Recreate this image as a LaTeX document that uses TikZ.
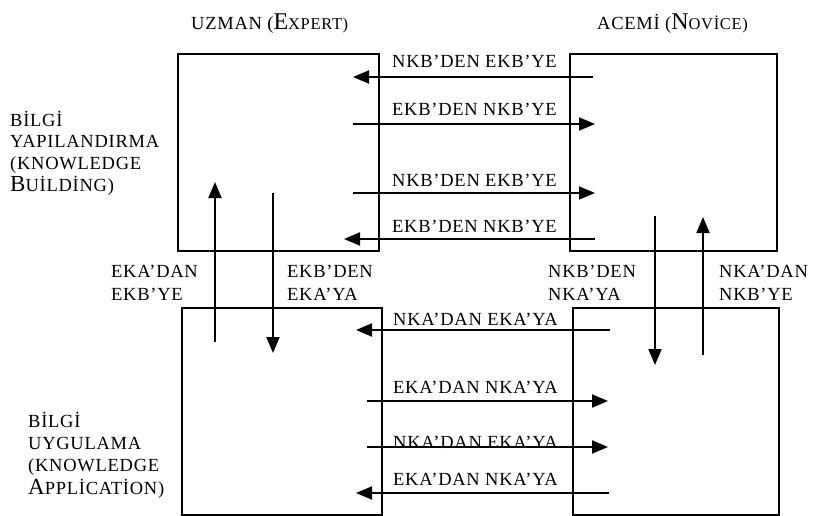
\documentclass[tikz,border=0pt]{standalone}
\usepackage{fontspec}
\setmainfont{Liberation Serif}[LetterSpace=4]
\usetikzlibrary{arrows.meta}

\begin{document}
\begin{tikzpicture}[x=1pt,y=-1pt,
  panel/.style={draw, line width=1.9pt, inner sep=0pt, anchor=north west},
  flow/.style={line width=1.9pt, -{Triangle[length=16pt,width=13pt]}},
  lbl/.style={font=\fontsize{18.5}{23}\selectfont, inner sep=0pt, anchor=base west, align=left},
  side/.style={lbl, font=\fontsize{18.5}{21.6}\selectfont},
]
\useasboundingbox (0,0) rectangle (813,516);

% the four panels
\node[panel, minimum width=201pt, minimum height=197pt] (ekb) at (177,53) {};
\node[panel, minimum width=207pt, minimum height=197pt] (nkb) at (569,53) {};
\node[panel, minimum width=200pt, minimum height=207pt] (eka) at (181,307) {};
\node[panel, minimum width=206pt, minimum height=207pt] (nka) at (572,307) {};

% column headings
\node[lbl] (hexp) at (191,30) {UZMAN ({\fontsize{24}{24}\selectfont E}{\fontsize{16.5}{17}\selectfont XPERT)}};
\node[lbl] (hnov) at (597,30) {ACEMİ ({\fontsize{24}{24}\selectfont N}{\fontsize{16.5}{17}\selectfont OVİCE)}};

% row headings (anchored at the baseline of the last line)
\node[side] (hbuild) at (10,191) {BİLGİ\\YAPILANDIRMA\\(KNOWLEDGE\\{\fontsize{23}{23}\selectfont B}UİLDİNG)};
\node[side, font=\fontsize{18.5}{22.3}\selectfont] (happ) at (28,494) {BİLGİ\\UYGULAMA\\(KNOWLEDGE\\{\fontsize{23}{23}\selectfont A}PPLİCATİON)};

% end points of the connectors
\coordinate (t1a) at (593,77);  \coordinate (t1b) at (353,77);
\coordinate (t2a) at (353,124); \coordinate (t2b) at (595,124);
\coordinate (t3a) at (353,193); \coordinate (t3b) at (595,193);
\coordinate (t4a) at (595,239); \coordinate (t4b) at (344,239);
\coordinate (b1a) at (610,330); \coordinate (b1b) at (356,330);
\coordinate (b2a) at (367,401); \coordinate (b2b) at (608,401);
\coordinate (b3a) at (367,447); \coordinate (b3b) at (608,447);
\coordinate (b4a) at (609,493); \coordinate (b4b) at (356,493);
\coordinate (lua) at (215,342); \coordinate (lub) at (215,182);
\coordinate (lda) at (273,193); \coordinate (ldb) at (273,353);
\coordinate (rda) at (655,216); \coordinate (rdb) at (655,365);
\coordinate (rua) at (703,355); \coordinate (rub) at (703,217);

% knowledge building exchanges
\draw[flow] (t1a) -- (t1b);
\draw[flow] (t2a) -- (t2b);
\draw[flow] (t3a) -- (t3b);
\draw[flow] (t4a) -- (t4b);
\node[lbl] (l1) at (392,68)  {NKB'DEN EKB'YE};
\node[lbl] (l2) at (392,116) {EKB'DEN NKB'YE};
\node[lbl] (l3) at (392,186) {NKB'DEN EKB'YE};
\node[lbl] (l4) at (392,232) {EKB'DEN NKB'YE};

% knowledge application exchanges
\draw[flow] (b1a) -- (b1b);
\draw[flow] (b2a) -- (b2b);
\draw[flow] (b3a) -- (b3b);
\draw[flow] (b4a) -- (b4b);
\node[lbl] (m1) at (393,325) {NKA'DAN EKA'YA};
\node[lbl] (m2) at (393,393) {EKA'DAN NKA'YA};
\node[lbl] (m3) at (393,448) {NKA'DAN EKA'YA};
\node[lbl] (m4) at (393,485) {EKA'DAN NKA'YA};

% vertical transfers
\draw[flow] (lua) -- (lub);
\draw[flow] (lda) -- (ldb);
\draw[flow] (rda) -- (rdb);
\draw[flow] (rua) -- (rub);
\node[lbl] (v1) at (111,300) {EKA'DAN\\EKB'YE};
\node[lbl] (v2) at (287,300) {EKB'DEN\\EKA'YA};
\node[lbl] (v3) at (548,300) {NKB'DEN\\NKA'YA};
\node[lbl] (v4) at (719,300) {NKA'DAN\\NKB'YE};
\end{tikzpicture}
\end{document}
